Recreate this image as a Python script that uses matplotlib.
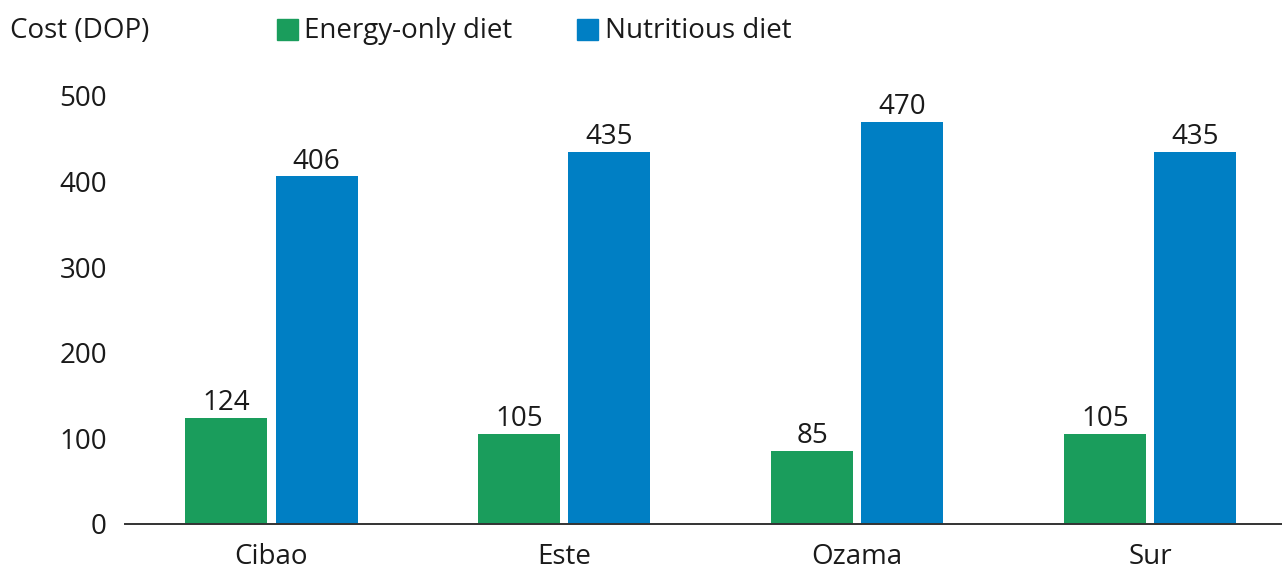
import numpy as np
import matplotlib.pyplot as plt

plt.rcParams['font.family'] = ['Open Sans', 'DejaVu Sans']

regions = ['Cibao', 'Este', 'Ozama', 'Sur']
energy_only = [124, 105, 85, 105]
nutritious = [406, 435, 470, 435]
y_ticks = [0, 100, 200, 300, 400, 500]

green = '#1a9d5c'
blue = '#007fc4'
txt = '#1a1a1a'
fs = 20

fig = plt.figure(figsize=(12.82, 5.69), dpi=100)
ax = fig.add_axes([125 / 1282, 45 / 569, 1 - 125 / 1282, 428 / 569])

x = np.arange(len(regions))
w = 0.28
gap = 0.028
b1 = ax.bar(x - w / 2 - gap / 2, energy_only, w, color=green)
b2 = ax.bar(x + w / 2 + gap / 2, nutritious, w, color=blue)

for bars, vals in ((b1, energy_only), (b2, nutritious)):
    for rect, v in zip(bars, vals):
        ax.text(rect.get_x() + rect.get_width() / 2, v + 1, str(v),
                ha='center', va='bottom', fontsize=fs, color=txt)

ax.set_xlim(-0.5, 3.45)
ax.set_ylim(0, 500)
ax.set_yticks(y_ticks)
ax.set_xticks(x)
ax.set_xticklabels(regions)
ax.tick_params(axis='both', length=0, labelsize=fs, colors=txt)
ax.tick_params(axis='y', pad=13)
ax.tick_params(axis='x', pad=14)
for s in ['top', 'right', 'left']:
    ax.spines[s].set_visible(False)
ax.spines['bottom'].set_color('#333333')
ax.spines['bottom'].set_linewidth(1.4)
ax.spines['bottom'].set_zorder(5)

# header: axis title and legend on one line
hy = 1 - 31 / 569
fig.text(10 / 1282, hy, 'Cost (DOP)', ha='left', va='center',
         fontsize=fs, color=txt)
fig.patches.append(plt.Rectangle((277 / 1282, 1 - 40 / 569), 21 / 1282, 21 / 569,
                                 transform=fig.transFigure, color=green))
fig.text(304 / 1282, hy, 'Energy-only diet', ha='left', va='center',
         fontsize=fs, color=txt)
fig.patches.append(plt.Rectangle((577 / 1282, 1 - 40 / 569), 21 / 1282, 21 / 569,
                                 transform=fig.transFigure, color=blue))
fig.text(605 / 1282, hy, 'Nutritious diet', ha='left', va='center',
         fontsize=fs, color=txt)

fig.savefig('out.png', dpi=100)
